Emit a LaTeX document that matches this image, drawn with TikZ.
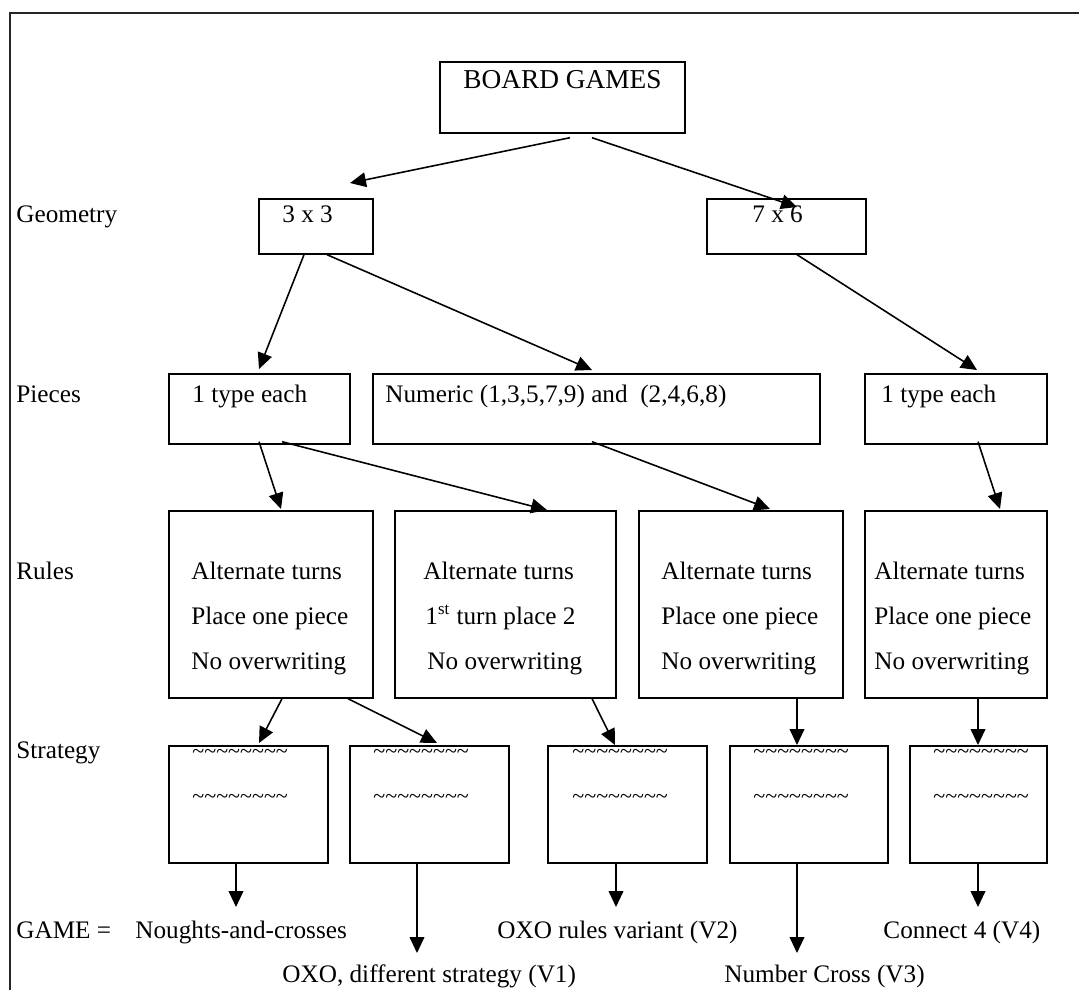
\documentclass[tikz,border=0pt]{standalone}
\usepackage{fontspec}
\setmainfont{Liberation Serif}
\usetikzlibrary{arrows.meta,calc}
\newlength\pxu
\setlength\pxu{0.476pt}
\begin{document}
\begin{tikzpicture}[x=0.476pt, y=-0.476pt,
  font=\fontsize{12}{14}\selectfont,
  box/.style 2 args={draw, line width=0.8pt, inner sep=0pt, anchor=north west,
    minimum width=#1\pxu, minimum height=#2\pxu},
  txt/.style={anchor=base west, inner sep=0pt},
  wave/.style={txt, font=\fontsize{10.5}{12}\selectfont},
  arr/.style={line width=0.75pt, -{Triangle[length=7.6pt,width=7pt]}},
  frame/.style={line width=1.2pt, black!85}]
\useasboundingbox (0,0) rectangle (1079,990);

% outer frame (runs off the page to the right and bottom)
\draw[frame] (10,990) -- (10,13) -- (1079,13);

% boxes
\node[box={245}{71}]  (bg)  at (439,61)  {};
\node[box={114}{55}]  (g33) at (258,198) {};
\node[box={159}{55}]  (g76) at (706,198) {};
\node[box={181}{70}]  (p1)  at (168,373) {};
\node[box={447}{70}]  (p2)  at (372,373) {};
\node[box={182}{70}]  (p3)  at (864,373) {};
\node[box={204}{187}] (r1)  at (168,510) {};
\node[box={221}{187}] (r2)  at (394,510) {};
\node[box={204}{187}] (r3)  at (638,510) {};
\node[box={182}{187}] (r4)  at (864,510) {};
\node[box={159}{117}] (s1)  at (168,745) {};
\node[box={159}{117}] (s2)  at (349,745) {};
\node[box={159}{117}] (s3)  at (547,745) {};
\node[box={158}{117}] (s4)  at (729,745) {};
\node[box={137}{117}] (s5)  at (909,745) {};

% row labels
\node[txt] (lgeo) at (16,222) {Geometry};
\node[txt] (lpie) at (16,402) {Pieces};
\node[txt] (lrul) at (16,579) {Rules};
\node[txt] (lstr) at (16,758) {Strategy};
\node[txt] (lgam) at (16,938) {GAME =};

% box texts
\node[txt, font=\fontsize{13}{15}\selectfont] (tbg) at (463,88) {BOARD GAMES};
\node[txt] (t33) at (282,222) {3 x 3};
\node[txt] (t76) at (752,222) {7 x 6};
\node[txt] (tp1) at (192,402) {1 type each};
\node[txt] (tp2) at (385,402) {Numeric (1,3,5,7,9) and\ \ (2,4,6,8)};
\node[txt] (tp3) at (881,402) {1 type each};

\node[txt] (r1a) at (191,579) {Alternate turns};
\node[txt] (r1b) at (191,624) {Place one piece};
\node[txt] (r1c) at (191,669) {No overwriting};
\node[txt] (r2a) at (423,579) {Alternate turns};
\node[txt] (r2b) at (425,624) {1\textsuperscript{st} turn place 2};
\node[txt] (r2c) at (427,669) {No overwriting};
\node[txt] (r3a) at (661,579) {Alternate turns};
\node[txt] (r3b) at (661,624) {Place one piece};
\node[txt] (r3c) at (661,669) {No overwriting};
\node[txt] (r4a) at (874,579) {Alternate turns};
\node[txt] (r4b) at (874,624) {Place one piece};
\node[txt] (r4c) at (874,669) {No overwriting};

\newcommand\tildes{\textasciitilde\textasciitilde\textasciitilde\textasciitilde\textasciitilde\textasciitilde\textasciitilde\textasciitilde}
\node[wave] (s1a) at (192,758) {\tildes};
\node[wave] (s1b) at (192,803) {\tildes};
\node[wave] (s2a) at (373,758) {\tildes};
\node[wave] (s2b) at (373,803) {\tildes};
\node[wave] (s3a) at (572,758) {\tildes};
\node[wave] (s3b) at (572,803) {\tildes};
\node[wave] (s4a) at (753,758) {\tildes};
\node[wave] (s4b) at (753,803) {\tildes};
\node[wave] (s5a) at (933,758) {\tildes};
\node[wave] (s5b) at (933,803) {\tildes};

% games
\node[txt] (gNC) at (135,938) {Noughts-and-crosses};
\node[txt] (gV1) at (282,982) {OXO, different strategy (V1)};
\node[txt] (gV2) at (497,938) {OXO rules variant (V2)};
\node[txt] (gV3) at (724,982) {Number Cross (V3)};
\node[txt] (gV4) at (883,938) {Connect 4 (V4)};

% connectors
\draw[arr] ($(bg.south west)+(131,4)$)  -- ($(g33.north west)+(92,-15)$);
\draw[arr] ($(bg.south west)+(153,4)$)  -- ($(g76.north west)+(91,9)$);
\draw[arr] ($(g33.south west)+(46,0)$)  -- ($(p1.north west)+(91,-4)$);
\draw[arr] ($(g33.south west)+(69,0)$)  -- ($(p2.north west)+(220,-3)$);
\draw[arr] ($(g76.south west)+(91,0)$)  -- ($(p3.north west)+(113,-3)$);
\draw[arr] ($(p1.south west)+(91,-3)$)  -- ($(r1.north west)+(113,-1)$);
\draw[arr] ($(p1.south west)+(114,-3)$) -- ($(r2.north west)+(153,0)$);
\draw[arr] ($(p2.south west)+(220,-3)$) -- ($(r3.north west)+(132,-1)$);
\draw[arr] ($(p3.south west)+(114,-3)$) -- ($(r4.north west)+(136,-1)$);
\draw[arr] ($(r1.south west)+(114,0)$)  -- ($(s1.north west)+(91,-2)$);
\draw[arr] ($(r1.south west)+(180,0)$)  -- ($(s2.north west)+(88,-2)$);
\draw[arr] ($(r2.south west)+(198,0)$)  -- ($(s3.north west)+(68,0)$);
\draw[arr] ($(r3.south west)+(159,0)$)  -- ($(s4.north west)+(68,0)$);
\draw[arr] ($(r4.south west)+(114,0)$)  -- ($(s5.north west)+(69,0)$);
\draw[arr] ($(s1.south west)+(68,0)$)   -- ($(gNC.base west)+(101,-31)$);
\draw[arr] ($(s2.south west)+(68,0)$)   -- ($(gV1.base west)+(135,-29)$);
\draw[arr] ($(s3.south west)+(69,0)$)   -- ($(gV2.base west)+(119,-31)$);
\draw[arr] ($(s4.south west)+(68,0)$)   -- ($(gV3.base west)+(73,-29)$);
\draw[arr] ($(s5.south west)+(69,0)$)   -- ($(gV4.base west)+(95,-31)$);
\end{tikzpicture}
\end{document}
